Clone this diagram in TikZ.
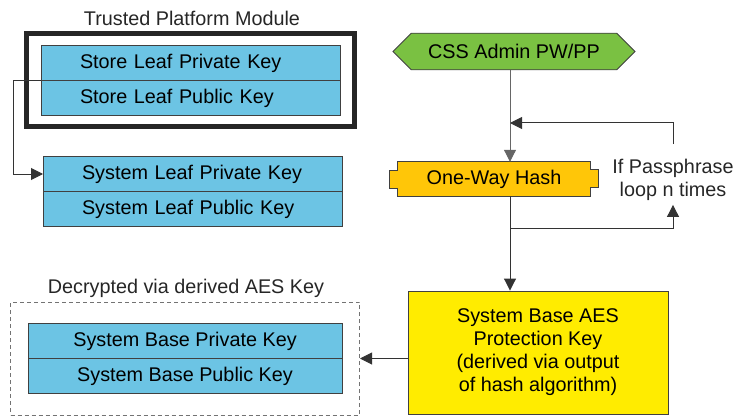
\documentclass[tikz,border=0pt]{standalone}
\usepackage{fontspec}
\setmainfont{Liberation Sans}
\usetikzlibrary{arrows.meta,positioning,shapes.misc,fit,backgrounds}
\definecolor{keyblue}{RGB}{108,196,228}
\definecolor{cssgreen}{RGB}{122,193,66}
\definecolor{hashorange}{RGB}{255,198,8}
\definecolor{aesyellow}{RGB}{255,236,0}
\definecolor{edge}{RGB}{64,64,64}
\newcommand{\diagfont}{\fontsize{19.8pt}{23pt}\selectfont}
\tikzset{
  keyrow/.style={rectangle, draw=edge, line width=0.9pt, fill=keyblue, outer sep=0pt,
                 minimum height=35pt, inner ysep=0pt, font=\diagfont},
  keyrowl/.style={keyrow, text width=221pt, inner xsep=39pt, align=left,
                  text depth=3pt},
  keyrowc/.style={keyrow, minimum width=314pt},
  tpmbox/.style={rectangle, draw=black!85, line width=5pt, inner xsep=14.5pt, inner ysep=11.5pt},
  decbox/.style={rectangle, draw=black!55, line width=1pt, dash pattern=on 4pt off 3pt,
                 inner xsep=17.5pt, inner ysep=21.5pt},
  ttl/.style={font=\diagfont, text=black!85, inner sep=0pt},
  cssbox/.style={chamfered rectangle, chamfered rectangle xsep=11pt, chamfered rectangle ysep=11pt,
                 draw=edge, line width=0.9pt, fill=cssgreen, minimum width=242pt,
                 minimum height=35pt, inner sep=0pt, font=\diagfont},
  hashtxt/.style={rectangle, minimum width=192pt, minimum height=34pt, inner sep=0pt, font=\diagfont},
  aesbox/.style={rectangle, draw=edge, line width=0.9pt, fill=aesyellow, minimum width=260pt,
                 minimum height=123pt, align=center, font=\diagfont},
  note/.style={align=center, inner sep=4pt, font=\diagfont, text=black!85},
  ar/.style={-{Triangle[length=12pt,width=12pt]}, line width=1pt, draw=black!80},
  arg/.style={ar, draw=black!60},
}

\begin{document}
\begin{tikzpicture}[x=1pt,y=-1pt]
\useasboundingbox (0,0) rectangle (739,417);

% ===================== TPM (top left) =====================
\node[keyrowl] (SPRIV) at (190.5,63) {Store Leaf Private Key};
\node[keyrowl, below=0pt of SPRIV] (SPUB) {Store Leaf Public Key};
\node[tpmbox, fit=(SPRIV)(SPUB)] (TPM) {};
\node[ttl] (TPMT) at (192,18) {Trusted Platform Module};

% ===================== system leaf =====================
\node[keyrowl] (LPRIV) at (192.5,174) {System Leaf Private Key};
\node[keyrowl, below=0pt of LPRIV] (LPUB) {System Leaf Public Key};
\draw[ar] (SPRIV.south west) -- ++(-28,0) |- (LPRIV.west);

% ===================== system base (dashed) =====================
\node[keyrowc] (BPRIV) at (185,341) {System Base Private Key};
\node[keyrowc, below=0pt of BPRIV] (BPUB) {System Base Public Key};
\node[decbox, fit=(BPRIV)(BPUB)] (DEC) {};
\node[ttl] (DECT) at (186,288) {Decrypted via derived AES Key};

% ===================== right column =====================
\coordinate (SPINE) at (510,0);
\node[cssbox] (CSS) at (514,51.5) {CSS Admin PW/PP};
\node[hashtxt] (HASH) at (494,179) {One-Way Hash};
\begin{scope}[on background layer]
  \draw[draw=edge, line width=0.9pt, fill=hashorange]
    (HASH.north west) -- (HASH.north east) -- ++(0,8) -- ++(8,0) -- ++(0,18) -- ++(-8,0)
    -- (HASH.south east) -- (HASH.south west) -- ++(0,-8) -- ++(-8,0) -- ++(0,-18)
    -- ++(8,0) -- cycle;
\end{scope}
\node[note] (LOOP) at (673,180) {If Passphrase\\loop n times};
\node[aesbox] (AES) at (538,352.5)
  {System Base AES\\Protection Key\\(derived via output\\of hash algorithm)};

% CSS -> hash, with the passphrase loop
\coordinate (RET) at (510,123);
\coordinate (SPLIT) at (510,228);
\draw[arg] (CSS.south -| SPINE) -- (HASH.north -| SPINE);
\draw[ar, shorten <=11pt] (LOOP.north) |- (RET);
\draw[ar] (HASH.south -| SPINE) -- (AES.north -| SPINE);
\draw[ar] (SPLIT) -| (LOOP.south);

% AES key -> system base
\draw[ar] (AES.west |- DEC.east) -- (DEC.east);

\end{tikzpicture}
\end{document}
